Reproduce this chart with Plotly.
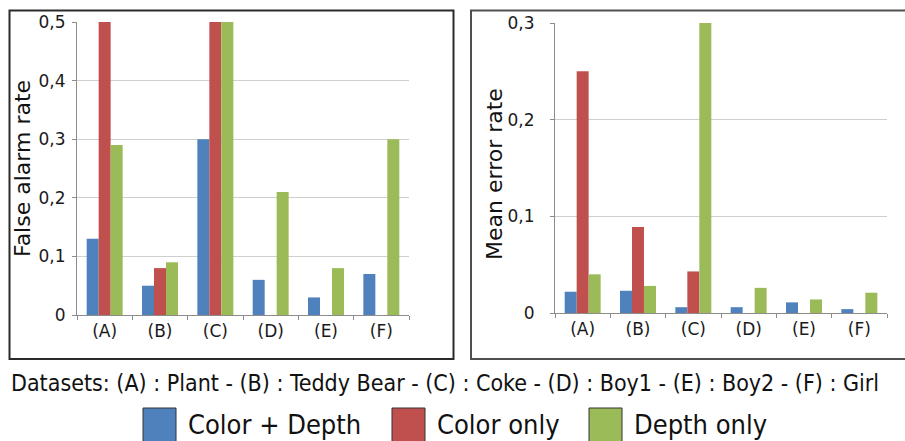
import plotly.graph_objects as go

categories = ["(A)", "(B)", "(C)", "(D)", "(E)", "(F)"]
series_names = ["Color + Depth", "Color only", "Depth only"]
colors = ["#4F81BD", "#C0504D", "#9BBB59"]

false_alarm_color_depth = [0.13, 0.05, 0.30, 0.06, 0.03, 0.07]
false_alarm_color_only = [0.50, 0.08, 0.50, 0.0, 0.0, 0.0]
false_alarm_depth_only = [0.29, 0.09, 0.50, 0.21, 0.08, 0.30]

mean_error_color_depth = [0.022, 0.023, 0.006, 0.006, 0.011, 0.004]
mean_error_color_only = [0.25, 0.089, 0.043, 0.0, 0.0, 0.0]
mean_error_depth_only = [0.040, 0.028, 0.30, 0.026, 0.014, 0.021]

left_title = "False alarm rate"
right_title = "Mean error rate"
footer = "Datasets: (A) : Plant - (B) : Teddy Bear - (C) : Coke - (D) : Boy1 - (E) : Boy2 - (F) : Girl"

W, H = 905, 441
def px(x):
    return x / W
def py(y):
    return 1 - y / H

fig = go.Figure()
left_vals = [false_alarm_color_depth, false_alarm_color_only, false_alarm_depth_only]
right_vals = [mean_error_color_depth, mean_error_color_only, mean_error_depth_only]
for name, col, vals in zip(series_names, colors, left_vals):
    fig.add_trace(go.Bar(x=categories, y=vals, name=name, marker=dict(color=col, line=dict(width=0)),
                         xaxis="x", yaxis="y", showlegend=False))
for name, col, vals in zip(series_names, colors, right_vals):
    fig.add_trace(go.Bar(x=categories, y=vals, name=name, marker=dict(color=col, line=dict(width=0)),
                         xaxis="x2", yaxis="y2", showlegend=False))

tickfont = dict(family="DejaVu Sans", size=17, color="#1a1a1a")
xcommon = dict(type="category", showgrid=False, showline=True, linecolor="#8c8c8c", linewidth=1,
               ticks="outside", tickson="boundaries", ticklen=4, tickcolor="#8c8c8c",
               tickfont=tickfont, fixedrange=True, automargin=False, ticklabelstandoff=1)
ycommon = dict(showgrid=True, gridcolor="#cfcfcf", gridwidth=1, showline=True, linecolor="#8c8c8c",
               linewidth=1, ticks="outside", ticklen=4, tickcolor="#8c8c8c", tickfont=tickfont,
               dtick=0.1, zeroline=False, fixedrange=True, automargin=False)

fig.update_layout(
    template="none",
    width=W, height=H, margin=dict(l=0, r=0, t=0, b=0, pad=0), autosize=False,
    paper_bgcolor="white", plot_bgcolor="white",
    separators=", ",
    barmode="group", bargap=0.35, bargroupgap=0,
    xaxis=dict(domain=[px(77), px(409)], anchor="y", **xcommon),
    yaxis=dict(domain=[py(315), py(22)], anchor="x", range=[0, 0.5], ticklabelstandoff=3, **ycommon),
    xaxis2=dict(domain=[px(555), px(887)], anchor="y2", **xcommon),
    yaxis2=dict(domain=[py(313), py(23)], anchor="x2", range=[0, 0.3], ticklabelstandoff=12, **ycommon),
)

# panel frames
fig.add_shape(type="rect", xref="paper", yref="paper", x0=px(9.5), x1=px(453.5), y0=py(359), y1=py(10.5),
              line=dict(color="#2a2a2a", width=2))
fig.add_shape(type="rect", xref="paper", yref="paper", x0=px(471), x1=px(912), y0=py(359), y1=py(10.5),
              line=dict(color="#505050", width=2))

# axis titles
fig.add_annotation(text=left_title, xref="paper", yref="paper", x=px(22), y=py(169), textangle=-90,
                   xanchor="center", yanchor="middle",
                   showarrow=False, font=dict(family="DejaVu Sans", size=22, color="#111"))
fig.add_annotation(text=right_title, xref="paper", yref="paper", x=px(494), y=py(174), textangle=-90,
                   xanchor="center", yanchor="middle",
                   showarrow=False, font=dict(family="DejaVu Sans", size=22, color="#111"))

# footer
fig.add_annotation(text=footer, xref="paper", yref="paper", x=px(9), y=py(383), xanchor="left",
                   yanchor="middle",
                   showarrow=False, font=dict(family="DejaVu Sans Condensed", size=23, color="#111"))

# legend drawn manually
legend_boxes = [143, 392, 589]
for name, col, bx in zip(series_names, colors, legend_boxes):
    fig.add_shape(type="rect", xref="paper", yref="paper", x0=px(bx), x1=px(bx + 33), y0=py(443), y1=py(408),
                  fillcolor=col, line=dict(color="#333", width=1))
    fig.add_annotation(text=name, xref="paper", yref="paper", x=px(bx + 43), y=py(424), xanchor="left",
                       yanchor="middle",
                       showarrow=False, font=dict(family="DejaVu Sans Condensed", size=27, color="#111"))

fig.write_html("out.html", config={"displayModeBar": False},
               post_script="document.body.style.margin='0';document.body.style.overflow='hidden';")
